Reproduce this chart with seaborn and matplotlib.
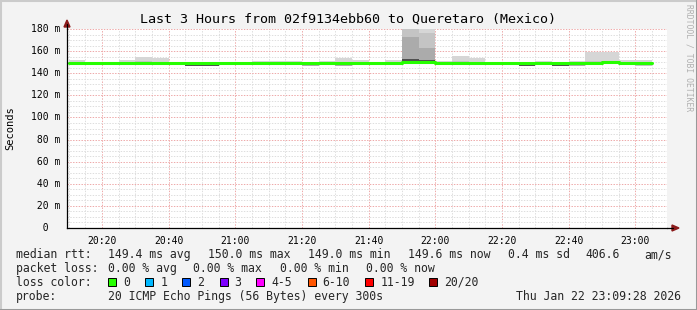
import matplotlib
matplotlib.use("Agg")
import matplotlib.pyplot as plt
import seaborn as sns
import pandas as pd
from matplotlib.ticker import FixedLocator, MultipleLocator, NullFormatter
from matplotlib.lines import Line2D
from matplotlib.patches import Polygon, Rectangle

# ---------------- data ----------------
TITLE = "Last 3 Hours from 02f9134ebb60 to Queretaro (Mexico)"
Y_LABEL = "Seconds"
WATERMARK = "RRDTOOL / TOBI OETIKER"

# 5-minute bins, start time in minutes after 20:00
bin_start = [10, 15, 20, 25, 30, 35, 40, 45, 50, 55, 60, 65, 70, 75, 80, 85, 90, 95,
             100, 105, 110, 115, 120, 125, 130, 135, 140, 145, 150, 155, 160, 165,
             170, 175, 180]
BIN_WIDTH = 5

median_rtt = [149.5, 149.3, 149.4, 149.6, 149.5, 149.4, 149.2, 149.1, 149.2, 149.3,
              149.5, 149.6, 149.4, 149.5, 149.3, 149.6, 149.4, 149.5, 149.3, 149.4,
              149.8, 149.7, 149.6, 149.5, 149.3, 149.0, 149.2, 149.1, 149.4, 149.2,
              149.3, 149.5, 149.7, 149.4, 149.6]

smoke_max = [152.0, 150.3, 150.4, 152.0, 155.0, 153.5, 150.2, 150.1, 150.2, 150.3,
             150.5, 151.0, 151.0, 151.5, 150.3, 151.5, 153.5, 152.0, 150.3, 152.0,
             210.0, 210.0, 151.0, 155.5, 154.0, 150.0, 150.2, 150.1, 151.5, 150.2,
             151.0, 159.0, 159.0, 152.0, 152.0]
smoke_p90 = [150.5, 150.2, 150.3, 150.6, 151.0, 150.6, 150.1, 150.0, 150.1, 150.2,
             150.4, 150.6, 150.4, 150.5, 150.2, 150.6, 150.6, 150.5, 150.2, 150.5,
             200.0, 176.0, 150.5, 150.8, 150.5, 149.9, 150.1, 150.0, 150.4, 150.1,
             150.2, 150.8, 150.8, 150.4, 150.5]
smoke_p75 = [150.1, 149.9, 150.0, 150.2, 150.1, 150.0, 149.8, 149.7, 149.8, 149.9,
             150.1, 150.2, 150.0, 150.1, 149.9, 150.2, 150.0, 150.1, 149.9, 150.0,
             173.0, 163.0, 150.2, 150.1, 149.9, 149.6, 149.8, 149.7, 150.0, 149.8,
             149.9, 150.1, 150.3, 150.0, 150.2]
smoke_p60 = [149.8, 149.6, 149.7, 149.9, 149.8, 149.7, 149.5, 149.4, 149.5, 149.6,
             149.8, 149.9, 149.7, 149.8, 149.6, 149.9, 149.7, 149.8, 149.6, 149.7,
             152.5, 152.0, 149.9, 149.8, 149.6, 149.3, 149.5, 149.4, 149.7, 149.5,
             149.6, 149.8, 150.0, 149.7, 149.9]
smoke_p40 = [149.2, 149.0, 149.1, 149.3, 149.2, 149.1, 148.9, 146.8, 146.9, 149.0,
             149.2, 149.3, 149.1, 149.2, 147.0, 149.3, 147.1, 149.2, 149.0, 149.1,
             149.6, 149.5, 149.3, 149.2, 149.0, 148.7, 148.9, 146.8, 149.1, 146.9,
             147.0, 149.2, 149.4, 149.1, 147.3]
smoke_p25 = [149.0, 148.8, 148.9, 149.1, 149.0, 148.9, 148.7, 146.6, 146.7, 148.8,
             149.0, 149.1, 148.9, 149.0, 146.8, 149.1, 146.9, 149.0, 148.8, 148.9,
             149.4, 149.3, 149.1, 149.0, 148.8, 148.5, 148.7, 146.6, 148.9, 146.7,
             146.8, 149.0, 149.2, 148.9, 147.1]
smoke_p10 = [148.8, 148.6, 148.7, 148.9, 148.8, 148.7, 148.5, 146.4, 146.5, 148.6,
             148.8, 148.9, 148.7, 148.8, 146.6, 148.9, 146.7, 148.8, 148.6, 148.7,
             149.2, 149.1, 148.9, 148.8, 148.6, 148.3, 148.5, 146.4, 148.7, 146.5,
             146.6, 148.8, 149.0, 148.7, 146.9]
smoke_min = [148.6, 148.4, 148.5, 148.7, 148.6, 148.5, 148.3, 146.2, 146.3, 148.4,
             148.6, 148.7, 148.5, 148.6, 146.4, 148.7, 146.5, 148.6, 148.4, 148.5,
             149.0, 148.9, 148.7, 148.6, 148.4, 148.1, 148.3, 146.2, 148.5, 146.3,
             146.4, 148.6, 148.8, 148.5, 146.7]

x_range = [9.4667, 189.4667]   # 20:09:28 .. 23:09:28
x_tick_pos = [20, 40, 60, 80, 100, 120, 140, 160, 180]
x_tick_labels = ["20:20", "20:40", "21:00", "21:20", "21:40", "22:00", "22:20",
                 "22:40", "23:00"]
y_range = [0, 180]
y_tick_pos = [0, 20, 40, 60, 80, 100, 120, 140, 160, 180]
y_tick_labels = ["  0  ", " 20 m", " 40 m", " 60 m", " 80 m", "100 m", "120 m",
                 "140 m", "160 m", "180 m"]

rtt_head = "median rtt:"
rtt_stats = ["149.4 ms avg", "150.0 ms max", "149.0 ms min", "149.6 ms now",
             "0.4 ms sd", "406.6", "am/s"]
loss_head = "packet loss:"
loss_stats = ["0.00 % avg", "0.00 % max", "0.00 % min", "0.00 % now"]
color_head = "loss color:"
loss_labels = ["0", "1", "2", "3", "4-5", "6-10", "11-19", "20/20"]
loss_colors = ["#26ff00", "#00b8ff", "#0059ff", "#7e00ff", "#ff00ff", "#ff5500",
               "#ff0000", "#a10000"]
probe_head = "probe:"
probe_text = "20 ICMP Echo Pings (56 Bytes) every 300s"
timestamp = "Thu Jan 22 23:09:28 2026"

# ---------------- style ----------------
sns.set_theme(style="white")
MONO = ["DejaVu Sans Mono"]
plt.rcParams["font.family"] = MONO

W, H = 697, 310
BG = "#f3f3f3"


def fx(px):
    return px / W


def fy(py):
    return 1 - py / H


fig = plt.figure(figsize=(W / 100, H / 100), dpi=100, facecolor=BG)
ax_l, ax_r, ax_t, ax_b = 67, 667, 29, 228
ax = fig.add_axes([fx(ax_l), fy(ax_b), (ax_r - ax_l) / W, (ax_b - ax_t) / H])
ax.set_facecolor("white")

# smoke layers (above the grid)
layers = [(smoke_min, smoke_max, "#d6d6d6"),
          (smoke_p10, smoke_p90, "#c4c4c4"),
          (smoke_p25, smoke_p75, "#ababab"),
          (smoke_p40, smoke_p60, "#505050")]
for lo, hi, col in layers:
    ax.bar(bin_start, [h - l for l, h in zip(lo, hi)], bottom=lo, width=BIN_WIDTH,
           align="edge", color=col, linewidth=0, zorder=2)

# median line (step)
df = pd.DataFrame({"t": bin_start + [bin_start[-1] + BIN_WIDTH],
                   "rtt": median_rtt + [median_rtt[-1]]})
sns.lineplot(data=df, x="t", y="rtt", ax=ax, color=loss_colors[0], linewidth=2.2,
             drawstyle="steps-post", estimator=None, sort=False, zorder=3)

ax.set_xlim(*x_range)
ax.set_ylim(*y_range)
ax.set_xlabel("")
ax.set_ylabel("")

ax.xaxis.set_major_locator(FixedLocator(x_tick_pos))
ax.set_xticklabels(x_tick_labels, fontsize=7, family=MONO)
ax.xaxis.set_minor_locator(MultipleLocator(5))
ax.yaxis.set_major_locator(FixedLocator(y_tick_pos))
ax.yaxis.set_major_formatter(NullFormatter())
ax.yaxis.set_minor_locator(MultipleLocator(5))

ax.set_axisbelow("line")
ax.grid(which="minor", color="#dedede", linestyle=(0, (1.4, 1.4)),
        linewidth=0.72, snap=True)
ax.grid(which="major", color="#eeaaaa", linestyle=(0, (1.4, 1.4)),
        linewidth=0.72, snap=True)

ax.tick_params(axis="x", which="major", length=2, width=0.72, color="#e09090",
               pad=4, labelsize=7, labelcolor="black")
ax.tick_params(axis="x", which="minor", length=0)
ax.tick_params(axis="y", which="major", length=3, width=0.72, color="#e09090",
               direction="out")
ax.tick_params(axis="y", which="minor", length=2, width=0.72, color="#aaaaaa",
               direction="out")

for s in ["top", "right"]:
    ax.spines[s].set_visible(False)
for s in ["left", "bottom"]:
    ax.spines[s].set_color("black")
    ax.spines[s].set_linewidth(0.9)
    ax.spines[s].set_zorder(4)

# y tick labels (monospace, as rrdtool prints them)
for v, lab in zip(y_tick_pos, y_tick_labels):
    py = ax_b - (v - y_range[0]) / (y_range[1] - y_range[0]) * (ax_b - ax_t)
    fig.text(fx(30.5), fy(py), lab, ha="left", va="center", fontsize=7,
             family=MONO, color="black")

# axis extensions and arrows
ARROW = "#8b1a1a"
fig.add_artist(Line2D([fx(ax_l), fx(ax_l)], [fy(ax_t), fy(24)], color="black",
                      linewidth=0.9))
fig.add_artist(Polygon([[fx(ax_l - 3), fy(27)], [fx(ax_l + 3), fy(27)],
                        [fx(ax_l), fy(20)]], closed=True, color=ARROW))
fig.add_artist(Line2D([fx(ax_r), fx(673)], [fy(ax_b), fy(ax_b)], color="black",
                      linewidth=0.9))
fig.add_artist(Polygon([[fx(672), fy(ax_b - 3)], [fx(672), fy(ax_b + 3)],
                        [fx(679), fy(ax_b)]], closed=True, color=ARROW))

# title, unit label, watermark
fig.text(fx(348), fy(19), TITLE, ha="center", va="center", fontsize=9.6,
         family=MONO, color="black")
fig.text(fx(10.5), fy(128.5), Y_LABEL, ha="center", va="center", rotation=90,
         fontsize=7.5, family=MONO, color="black")
fig.text(fx(689), fy(58), WATERMARK, ha="center", va="center", rotation=-90,
         fontsize=5.8, family=MONO, color="#b0b0b0")

# legend block
LEG = 8.3
y1, y2, y3, y4 = 254.5, 268.5, 282.3, 296.3
fig.text(fx(16), fy(y1), rtt_head, ha="left", va="center", fontsize=LEG, family=MONO)
for xp, s in zip([107.6, 207.6, 307.6, 407.6, 507.6, 585, 644], rtt_stats):
    fig.text(fx(xp), fy(y1), s, ha="left", va="center", fontsize=LEG, family=MONO)

fig.text(fx(16), fy(y2), loss_head, ha="left", va="center", fontsize=LEG, family=MONO)
for xp, s in zip([107.6, 193, 280, 366], loss_stats):
    fig.text(fx(xp), fy(y2), s, ha="left", va="center", fontsize=LEG, family=MONO)

fig.text(fx(16), fy(y3), color_head, ha="left", va="center", fontsize=LEG, family=MONO)
for xp, lab, col in zip([108, 145.3, 182.2, 219.6, 256.4, 307.6, 365.3, 428.9],
                        loss_labels, loss_colors):
    fig.add_artist(Rectangle((fx(xp), fy(y3 + 4)), 8 / W, 8 / H, facecolor=col,
                             edgecolor="black", linewidth=0.7))
    fig.text(fx(xp + 15), fy(y3), lab, ha="left", va="center", fontsize=LEG,
             family=MONO)

fig.text(fx(16), fy(y4), probe_head, ha="left", va="center", fontsize=LEG, family=MONO)
fig.text(fx(107.6), fy(y4), probe_text, ha="left", va="center", fontsize=LEG,
         family=MONO)
fig.text(fx(681), fy(y4), timestamp, ha="right", va="center", fontsize=LEG,
         family=MONO)

# rrdtool-style shaded frame
fig.add_artist(Line2D([0, 0, 1], [0, 1, 1], transform=fig.transFigure,
                      color="#cbcbcb", linewidth=2.2))
fig.add_artist(Line2D([0, 1, 1], [0, 0, 1], transform=fig.transFigure,
                      color="#999999", linewidth=2.2))

fig.savefig("out.png", dpi=100, facecolor=BG)
